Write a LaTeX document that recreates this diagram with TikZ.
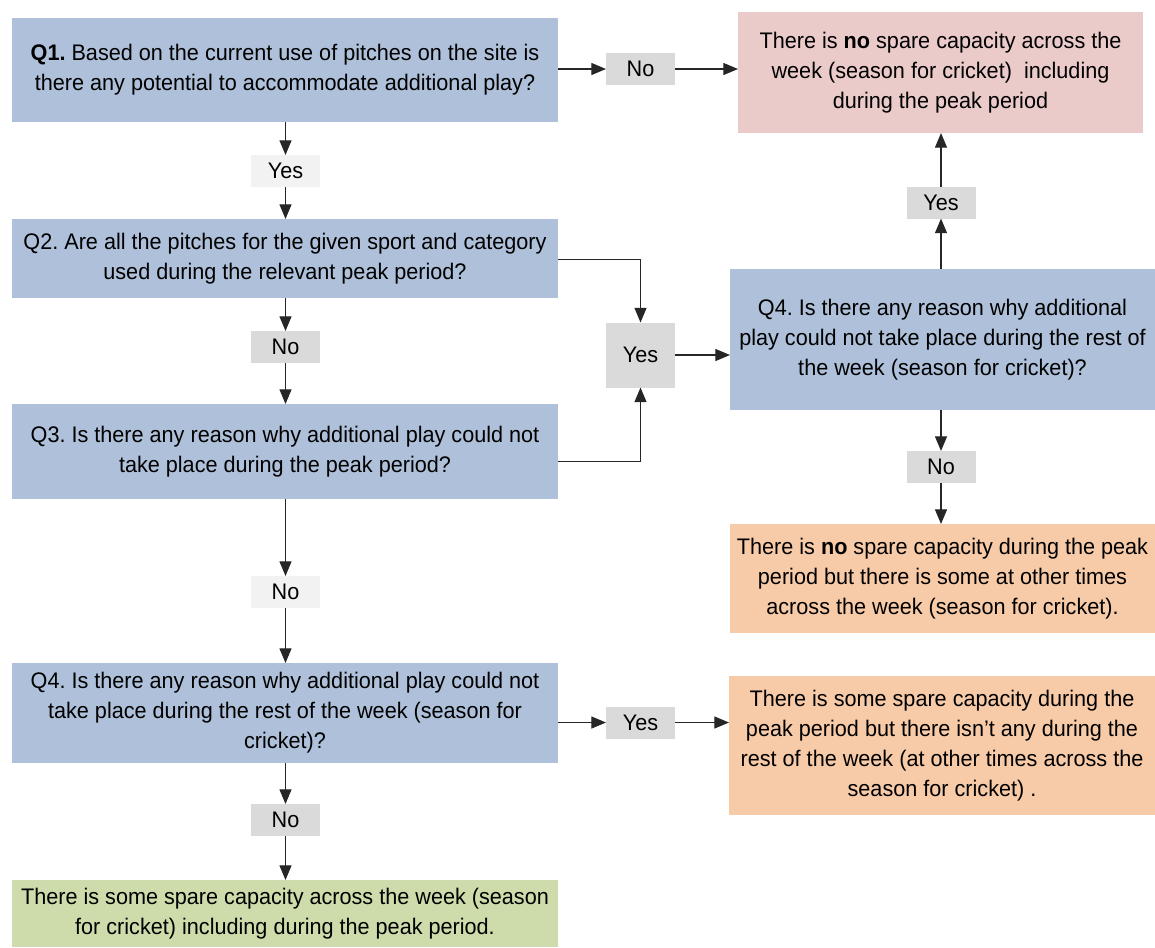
\documentclass[tikz,border=0pt]{standalone}
\usepackage{fontspec}
\setmainfont[FakeStretch=0.96]{Liberation Sans}
\usetikzlibrary{arrows.meta,positioning}
\definecolor{qblue}{HTML}{AFC1DA}
\definecolor{rpink}{HTML}{EBCACA}
\definecolor{rorange}{HTML}{F8CBA8}
\definecolor{rgreen}{HTML}{CDDCAA}
\definecolor{lgray}{HTML}{DADADA}
\definecolor{lwhite}{HTML}{F2F2F2}
\frenchspacing
\begin{document}
\begin{tikzpicture}[x=0.75pt,y=-0.75pt,
  every node/.style={font=\fontsize{16.9}{22.5}\selectfont, align=center, inner sep=0pt, outer sep=0pt, anchor=center},
  box/.style={rectangle, fill=#1, minimum width=409.5pt},
  rbox/.style={rectangle, fill=#1},
  lab/.style={rectangle, fill=#1, minimum width=51.75pt, minimum height=24pt},
  conn/.style={draw=black!85, line width=0.9pt, -{Triangle[length=11pt,width=9pt]}},
  plain/.style={draw=black!85, line width=0.9pt}]
\useasboundingbox (0,0) rectangle (1155,947);
% left column
\node[box=qblue, minimum height=78pt] (q1) at (285,70) {\textbf{Q1.} Based on the current use of pitches on the site is\\there any potential to accommodate additional play?};
\node[box=qblue, minimum height=59.25pt] (q2) at (285,258.5) {Q2. Are all the pitches for the given sport and category\\used during the relevant peak period?};
\node[box=qblue, minimum height=71.25pt] (q3) at (285,451.5) {Q3. Is there any reason why additional play could not\\take place during the peak period?};
\node[box=qblue, minimum height=75pt] (q4l) at (285,713) {Q4. Is there any reason why additional play could not\\take place during the rest of the week (season for\\cricket)?};
\node[box=rgreen, minimum height=50.25pt] (green) at (285,913.5) {There is some spare capacity across the week (season\\for cricket) including during the peak period.};
% right column
\node[rbox=rpink, minimum width=303.75pt, minimum height=90.75pt] (pink) at (940.5,72.5) {There is \textbf{no} spare capacity across the\\week (season for cricket)\ \ including\\during the peak period};
\node[rbox=qblue, minimum width=318.75pt, minimum height=105.75pt] (q4r) at (942.5,339.5) {Q4. Is there any reason why additional\\play could not take place during the rest of\\the week (season for cricket)?};
\node[rbox=rorange, minimum width=318.75pt, minimum height=81.75pt] (or1) at (942.5,578.5) {There is \textbf{no} spare capacity during the peak\\period but there is some at other times\\across the week (season for cricket).};
\node[rbox=rorange, minimum width=319.5pt, minimum height=104.25pt] (or2) at (942,745.5) {There is some spare capacity during the\\peak period but there isn’t any during the\\rest of the week (at other times across the\\season for cricket) .};
% labels
\node[lab=lgray] (noA) at (640.5,69) {No};
\node[lab=lwhite] (yesA) at (285.5,171) {Yes};
\node[lab=lgray] (noB) at (285.5,347) {No};
\node[lab=lgray, minimum height=48.75pt] (yesM) at (640.5,355) {Yes};
\node[lab=lgray] (yesR) at (941,202.5) {Yes};
\node[lab=lgray] (noR) at (941,467) {No};
\node[lab=lwhite] (noC) at (285.5,592) {No};
\node[lab=lgray] (yesL) at (640.5,722.5) {Yes};
\node[lab=lgray] (noD) at (285.5,820) {No};
% connectors
\draw[conn] (q1.east |- noA) -- (noA.west);
\draw[conn] (noA.east) -- (noA.east -| pink.west);
\draw[conn] (q1.south -| yesA) -- (yesA.north);
\draw[conn] (yesA.south) -- (yesA.south |- q2.north);
\draw[conn] (q2.south -| noB) -- (noB.north);
\draw[conn] (noB.south) -- (noB.south |- q3.north);
\draw[conn] ([yshift=-1pt]q2.east) -| (yesM.north);
\draw[conn] ([yshift=-7.5pt]q3.east) -| (yesM.south);
\draw[conn] (yesM.east) -- (yesM.east -| q4r.west);
\draw[conn] (q4r.north -| yesR) -- (yesR.south);
\draw[conn] (yesR.north) -- (yesR.north |- pink.south);
\draw[conn] (q4r.south -| noR) -- (noR.north);
\draw[conn] (noR.south) -- (noR.south |- or1.north);
\draw[conn] (q3.south -| noC) -- (noC.north);
\draw[conn] (noC.south) -- (noC.south |- q4l.north);
\draw[conn] (q4l.east |- yesL) -- (yesL.west);
\draw[conn] (yesL.east) -- (yesL.east -| or2.west);
\draw[conn] (q4l.south -| noD) -- (noD.north);
\draw[conn] (noD.south) -- (noD.south |- green.north);
\end{tikzpicture}
\end{document}
